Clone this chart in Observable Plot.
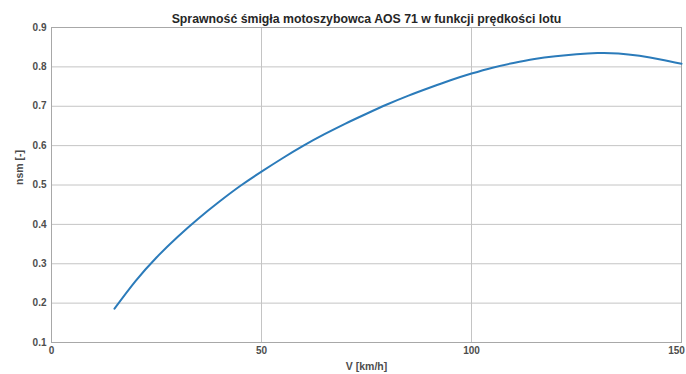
<!DOCTYPE html>
<html>
<head>
<meta charset="utf-8">
<script src="https://cdn.jsdelivr.net/npm/d3@7"></script>
<script src="https://cdn.jsdelivr.net/npm/@observablehq/plot@0.6"></script>
<style>
  html, body { margin: 0; padding: 0; background: #fff; }
</style>
</head>
<body>
<div id="chart"></div>
<script>
const titleText = "Sprawność śmigła motoszybowca AOS 71 w funkcji prędkości lotu";
const xLabel = "V [km/h]";
const yLabel = "nsm [-]";
const speed = [15, 20, 25, 30, 35, 40, 45, 50, 55, 60, 65, 70, 75, 80, 85, 90, 95, 100, 105, 110, 115, 120, 125, 130, 135, 140, 145, 150];
const efficiency = [0.186, 0.256, 0.316, 0.368, 0.415, 0.458, 0.498, 0.534, 0.568, 0.600, 0.629, 0.656, 0.681, 0.705, 0.727, 0.747, 0.766, 0.783, 0.798, 0.810, 0.820, 0.827, 0.832, 0.835, 0.834, 0.828, 0.819, 0.808];
const xTicks = [0, 50, 100, 150];
const yTicks = [0.1, 0.2, 0.3, 0.4, 0.5, 0.6, 0.7, 0.8, 0.9];

const data = speed.map((v, i) => ({v, n: efficiency[i]}));
const lastX = xTicks[xTicks.length - 1];

const chart = Plot.plot({
  width: 686,
  height: 374,
  marginLeft: 51,
  marginRight: 5,
  marginTop: 27,
  marginBottom: 32,
  style: {fontFamily: "'Liberation Sans', Arial, sans-serif", fontSize: "10px", background: "#fff"},
  x: {domain: [0, 150]},
  y: {domain: [0.1, 0.9]},
  marks: [
    Plot.gridX(xTicks, {stroke: "#c4c4c4", strokeOpacity: 1, strokeWidth: 1}),
    Plot.gridY(yTicks, {stroke: "#c4c4c4", strokeOpacity: 1, strokeWidth: 1}),
    Plot.frame({stroke: "#a8a8a8", strokeWidth: 1}),
    Plot.axisX(xTicks.filter(d => d !== lastX), {tickSize: 0, tickPadding: 4, tickFormat: d => String(d), label: null, fill: "#4d4d4d", fontWeight: "bold", fontSize: 10}),
    Plot.axisX([lastX], {tickSize: 0, tickPadding: 4, tickFormat: d => String(d), label: null, fill: "#4d4d4d", fontWeight: "bold", fontSize: 10, dx: -5}),
    Plot.axisY(yTicks, {tickSize: 0, tickPadding: 5, tickFormat: d3.format(".1f"), label: null, fill: "#4d4d4d", fontWeight: "bold", fontSize: 10}),
    Plot.line(data, {x: "v", y: "n", stroke: "#2b7bba", strokeWidth: 2, curve: "natural"}),
    Plot.text([titleText], {frameAnchor: "top", dy: -13, fontWeight: "bold", fontSize: 12.3, fill: "#262626"}),
    Plot.text([xLabel], {frameAnchor: "bottom", dy: 27, fontWeight: "bold", fontSize: 10.5, fill: "#4d4d4d"}),
    Plot.text([yLabel], {frameAnchor: "left", dx: -32, rotate: -90, fontWeight: "bold", fontSize: 10.5, fill: "#4d4d4d"})
  ]
});
document.getElementById("chart").appendChild(chart);
</script>
</body>
</html>
